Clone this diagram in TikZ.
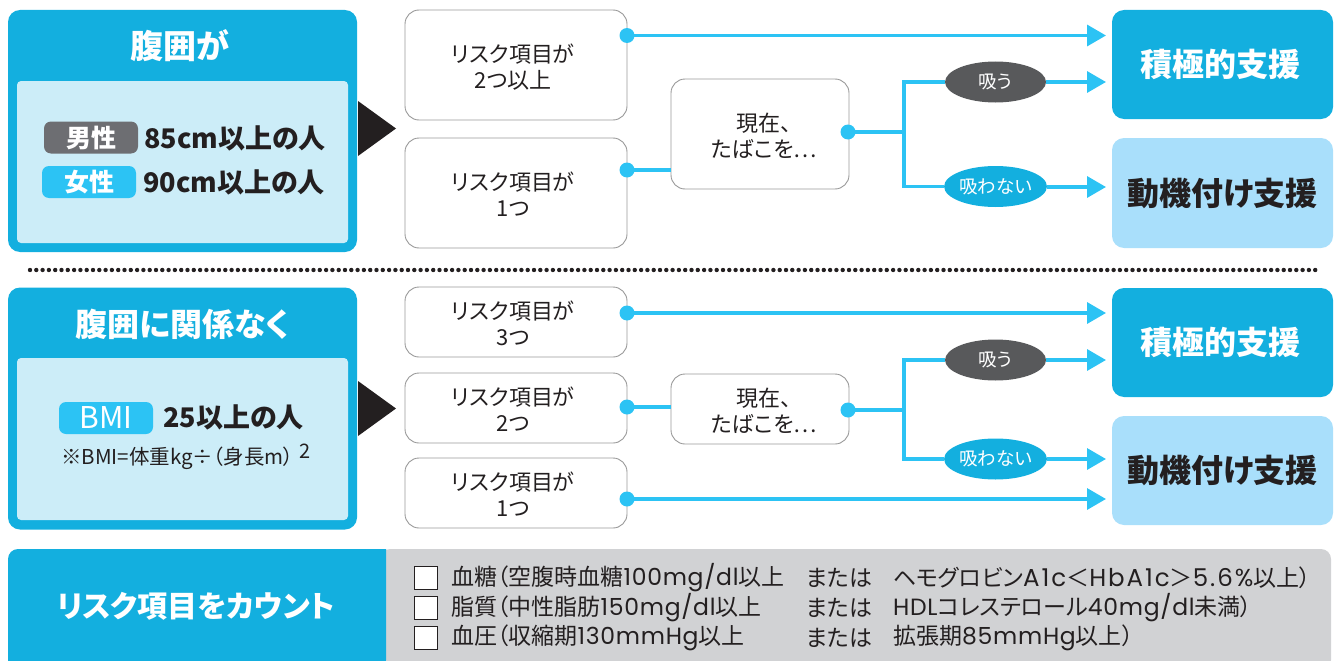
\documentclass[tikz,border=0pt]{standalone}
\usepackage{fontspec}
\setmainfont[RawFeature={+palt}]{Noto Sans CJK JP}
\newfontfamily\latinf[LetterSpace=3]{Poppins}
\newfontfamily\latinw[LetterSpace=8]{Poppins}
\usetikzlibrary{shapes.geometric,arrows.meta}
\definecolor{mainblue}{HTML}{13AFDF}
\definecolor{paleblue}{HTML}{CCEDF8}
\definecolor{linkblue}{HTML}{2CC3F4}
\definecolor{lightbox}{HTML}{A9DFFB}
\definecolor{pillgray}{HTML}{6D6E72}
\definecolor{darkell}{HTML}{58595B}
\definecolor{ink}{HTML}{231F20}
\definecolor{panelgray}{HTML}{D1D2D4}
\newcommand{\fs}[1]{\fontsize{#1}{#1}\selectfont}
\newcommand{\tl}[2]{\raisebox{-5pt}[\height][\depth]{\begin{tabular}{@{}c@{}}#1\\#2\end{tabular}}\kern6pt}
\newcommand{\tls}[2]{\kern8pt\raisebox{-5pt}[\height][\depth]{\begin{tabular}{@{}c@{}}#1\\#2\end{tabular}}}
\newcommand{\lt}[1]{{\latinf\fontsize{23.5}{23.5}\selectfont #1}}
\newcommand{\ltw}[1]{{\latinw\fontsize{24.5}{24.5}\selectfont #1}}
\tikzset{
 outerbox/.style={fill=mainblue,draw=none,rounded corners=12pt,minimum width=349pt,inner sep=0pt},
 innerbox/.style={fill=paleblue,draw=none,rounded corners=4pt,minimum width=331pt,minimum height=162pt,inner sep=0pt},
 pill/.style={rounded corners=7pt,minimum width=94pt,minimum height=32pt,inner sep=0pt,text=white,font=\fs{25}\bfseries},
 heading/.style={text=white,font=\fs{33}\bfseries,inner sep=0pt},
 big/.style={text=ink,font=\fs{27}\bfseries,inner sep=0pt,anchor=west},
 riskbox/.style={draw=black!40,line width=0.9pt,fill=white,rounded corners=14pt,minimum width=222pt,inner sep=0pt,align=center,text=ink,font=\fontsize{22}{26}\selectfont},
 smokebox/.style={riskbox,minimum width=178pt},
 result/.style={rounded corners=12pt,minimum width=221pt,minimum height=109pt,inner sep=0pt,font=\fs{32}\bfseries},
 dotnode/.style={circle,fill=linkblue,draw=none,minimum size=15pt,inner sep=0pt},
 oval/.style={ellipse,minimum width=101pt,minimum height=41pt,inner sep=0pt,text=white,font=\fs{18.5}},
 link/.style={draw=linkblue,line width=3.4pt},
 arrowlink/.style={link,-{Triangle[length=19pt,width=21pt]}},
 bigtri/.style={fill=ink,draw=none},
 listtext/.style={font=\fs{23},text=ink,inner sep=0pt,anchor=west},
 checkbox/.style={draw=ink,line width=1.3pt,fill=white,minimum size=23pt,inner sep=0pt},
}
\begin{document}
\begin{tikzpicture}[x=1pt,y=-1pt]
\useasboundingbox (0,0) rectangle (1341,661);
% ---------- upper section
\node[outerbox,minimum height=242pt] (o1) at (182.5,131) {};
\node[innerbox] (i1) at (182.5,162) {};
\node[heading] (h1) at (180,46) {腹囲が};
\node[pill,fill=pillgray] (p1) at (91,137.5) {男性};
\node[pill,fill=linkblue] (p2) at (89,182) {女性};
\node[big] (t1) at (144,138) {85cm以上の人};
\node[big] (t2) at (143,182) {90cm以上の人};
\fill[bigtri] (358,101) -- (396,128.5) -- (358,156) -- cycle;
\node[riskbox,minimum height=110pt] (r1) at (516,65) {\tl{リスク項目が}{2つ以上}};
\node[riskbox,minimum height=110pt] (r2) at (516,193) {\tl{リスク項目が}{1つ}};
\node[smokebox,minimum height=110pt] (s1) at (760,134) {\tls{現在、}{たばこを…}};
\node[dotnode] (d1) at (627,35.5) {};
\node[dotnode] (d2) at (627,170) {};
\node[dotnode] (d3) at (848,132) {};
\node[result,fill=mainblue,text=white] (g1) at (1222.5,64.5) {\raisebox{2pt}{積極的支援}\kern4pt};
\node[result,fill=lightbox,text=ink,minimum height=110pt] (g2) at (1222.5,193) {動機付け支援};
\node[oval,fill=darkell] (e1) at (995.5,82) {吸う};
\node[oval,fill=mainblue] (e2) at (995.5,186.5) {吸わない};
\coordinate (a1) at (1106,35.5);
\coordinate (a2) at (1106,82);
\coordinate (a3) at (1106,187);
\coordinate (j1) at (904,132);
\draw[arrowlink] (d1.center) -- (a1);
\draw[link] (d2.center) -- (s1.west |- d2);
\draw[link] (d3.center) -- (j1);
\draw[link] (e1.west) -| (j1) |- (e2.west);
\draw[arrowlink] (e1.east) -- (a2);
\draw[arrowlink] (e2.east |- a3) -- (a3);
% ---------- divider
\coordinate (l1) at (30,270);
\coordinate (l2) at (1318,270);
\draw[ink,line width=4.4pt,line cap=round,dash pattern=on 0pt off 6.3pt] (l1) -- (l2);
% ---------- lower section
\node[outerbox,minimum height=242pt] (o2) at (182.5,408.5) {};
\node[innerbox] (i2) at (182.5,439) {};
\node[heading,font=\fs{32}\bfseries] (h2) at (182.5,324) {腹囲に関係なく};
\node[pill,fill=linkblue,font=\fs{30}\selectfont] (p3) at (106,418) {BMI};
\node[big] (t3) at (163,417) {25以上の人};
\node[text=ink,inner sep=0pt,font=\fs{20.5}] (n1) at (186,457) {※BMI=体重kg÷（身長m）\kern6pt\raisebox{6pt}{\fs{20}2}};
\fill[bigtri] (358,381) -- (396,408.5) -- (358,436) -- cycle;
\node[riskbox,minimum height=70pt] (r3) at (516,322) {\tl{リスク項目が}{3つ}};
\node[riskbox,minimum height=70pt] (r4) at (516,408) {\tl{リスク項目が}{2つ}};
\node[riskbox,minimum height=70pt] (r5) at (516,493) {\tl{リスク項目が}{1つ}};
\node[smokebox,minimum height=70pt] (s2) at (760,409) {\tls{現在、}{たばこを…}};
\node[dotnode] (d4) at (627,313) {};
\node[dotnode] (d5) at (627,407) {};
\node[dotnode] (d6) at (627,499) {};
\node[dotnode] (d7) at (848,410) {};
\node[result,fill=mainblue,text=white] (g3) at (1222.5,342.5) {\raisebox{2pt}{積極的支援}\kern4pt};
\node[result,fill=lightbox,text=ink] (g4) at (1222.5,470.5) {動機付け支援};
\node[oval,fill=darkell] (e3) at (995.5,360) {吸う};
\node[oval,fill=mainblue] (e4) at (995.5,459) {吸わない};
\coordinate (a4) at (1106,313);
\coordinate (a5) at (1106,360);
\coordinate (a6) at (1106,459);
\coordinate (a7) at (1106,499);
\coordinate (j2) at (904,410);
\draw[arrowlink] (d4.center) -- (a4);
\draw[link] (d5.center) -- (s2.west |- d5);
\draw[link] (d7.center) -- (j2);
\draw[link] (e3.west) -| (j2) |- (e4.west);
\draw[arrowlink] (e3.east) -- (a5);
\draw[arrowlink] (e4.east) -- (a6);
\draw[arrowlink] (d6.center) -- (a7);
% ---------- risk panel
\fill[panelgray,rounded corners=10pt] (380,549) -- (1331,549) -- (1331,670) -- (380,670) -- cycle;
\fill[mainblue,rounded corners=10pt] (386,549) -- (8,549) -- (8,670) -- (386,670) [sharp corners] -- cycle;
\fill[mainblue] (376,549) rectangle (386,661);
\node[text=white,font=\fs{30}\bfseries,inner sep=0pt] (c0) at (196,606) {リスク項目をカウント};
\node[checkbox] (b1) at (426,578) {};
\node[checkbox] (b2) at (426,608) {};
\node[checkbox] (b3) at (426,638) {};
\node[listtext] (a) at (451,578) {血糖（空腹時血糖\lt{100mg/dl}以上};
\node[listtext] (b) at (451,608) {脂質（中性脂肪\lt{150mg/dl}以上};
\node[listtext] (c) at (451,638) {血圧（収縮期\lt{130mmHg}以上};
\node[listtext] (m1) at (806,578) {または};
\node[listtext] (m2) at (806,608) {または};
\node[listtext] (m3) at (806,638) {または};
\node[listtext] (x1) at (893,578) {ヘモグロビン\ltw{A1c}＜\ltw{HbA1c}＞\ltw{5.6\%}以上）};
\node[listtext] (x2) at (893,608) {\lt{HDL}コレステロール\lt{40mg/dl}未満）};
\node[listtext] (x3) at (893,638) {拡張期\lt{85mmHg}以上）};
\end{tikzpicture}
\end{document}
